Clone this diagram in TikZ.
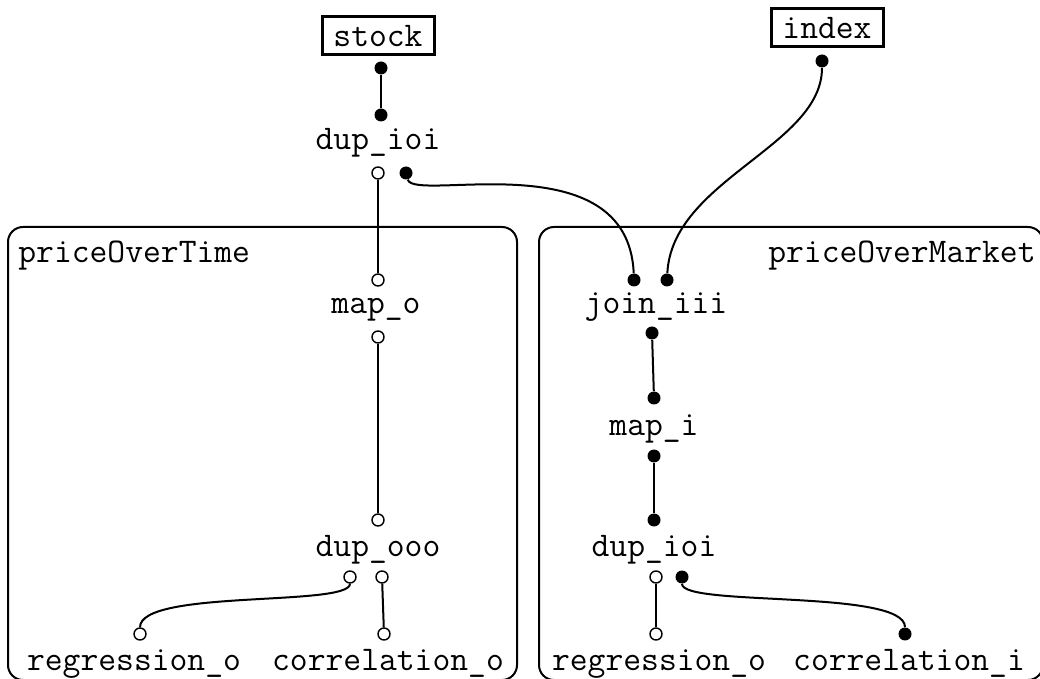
\documentclass[tikz,border=0pt]{standalone}
\usepackage{fontspec}
\usepackage{tikz}

\begin{document}
\begin{tikzpicture}[x=0.5pt,y=-0.5pt,
  font=\ttfamily\fontsize{17.3}{19}\selectfont,
  lbl/.style={anchor=base,inner sep=0pt},
  srcbox/.style={draw,line width=1.5pt,minimum width=56pt,minimum height=19pt,inner sep=0pt},
  fulldot/.style={circle,fill,inner sep=0pt,minimum size=6.5pt},
  opendot/.style={circle,draw,fill=white,line width=0.7pt,inner sep=0pt,minimum size=6pt},
  wire/.style={line width=1pt}]
\useasboundingbox (0,0) rectangle (1040,679);
\clip (0,0) rectangle (1040,679);

% groups
\draw[line width=1pt,rounded corners=7.5pt] (8,227) rectangle (517,680);
\draw[line width=1pt,rounded corners=7.5pt] (539,227) rectangle (1043,680);
\node[lbl,anchor=base west] (timeLbl) at (18,263) {priceOverTime};
\node[lbl,anchor=base east] (marketLbl) at (1036,263) {priceOverMarket};

% sources
\node[srcbox] (stock) at (378,36) {stock};
\node[srcbox] (index) at (827,28) {index};

% operators
\node[lbl] (dupA) at (378,150) {dup\_ioi};
\node[lbl] (mapO) at (376,314) {map\_o};
\node[lbl] (dupC) at (378,556) {dup\_ooo};
\node[lbl] (regA) at (134,670) {regression\_o};
\node[lbl] (corrO) at (388,670) {correlation\_o};
\node[lbl] (join) at (656,314) {join\_iii};
\node[lbl] (mapI) at (654,436) {map\_i};
\node[lbl] (dupB) at (654,556) {dup\_ioi};
\node[lbl] (regB) at (659,670) {regression\_o};
\node[lbl] (corrI) at (909,670) {correlation\_i};

% ports
\foreach \n/\x/\y in {stockOut/381/68, indexOut/822/61, dupAin/381/115,
    dupAi/406/173, joinL/634/280, joinR/667/280, joinOut/652/333,
    mapIin/654/398, mapIout/654/456, dupBin/654/520, dupBi/682/577,
    corrIin/905/634}
  \node[fulldot] (\n) at (\x,\y) {};
\foreach \n/\x/\y in {dupAo/378/173, mapOin/378/280, mapOout/378/337,
    dupCin/378/520, dupCl/350/577, dupCr/382/577, regAin/140/634,
    corrOin/384/634, dupBo/656/577, regBin/656/634}
  \node[opendot] (\n) at (\x,\y) {};

% wires
\foreach \a/\b in {stockOut/dupAin, dupAo/mapOin, mapOout/dupCin,
    dupCr/corrOin, joinOut/mapIin, mapIout/dupBin, dupBo/regBin}
  \draw[wire] (\a) -- (\b);
\draw[wire] (dupAi) .. controls +(8,30) and +(-6,-140) .. (joinL);
\draw[wire] (indexOut) .. controls +(0,85) and +(5,-100) .. (joinR);
\draw[wire] (dupCl) .. controls +(0,30) and +(0,-45) .. (regAin);
\draw[wire] (dupBi) .. controls +(0,30) and +(0,-45) .. (corrIin);
\end{tikzpicture}
\end{document}
